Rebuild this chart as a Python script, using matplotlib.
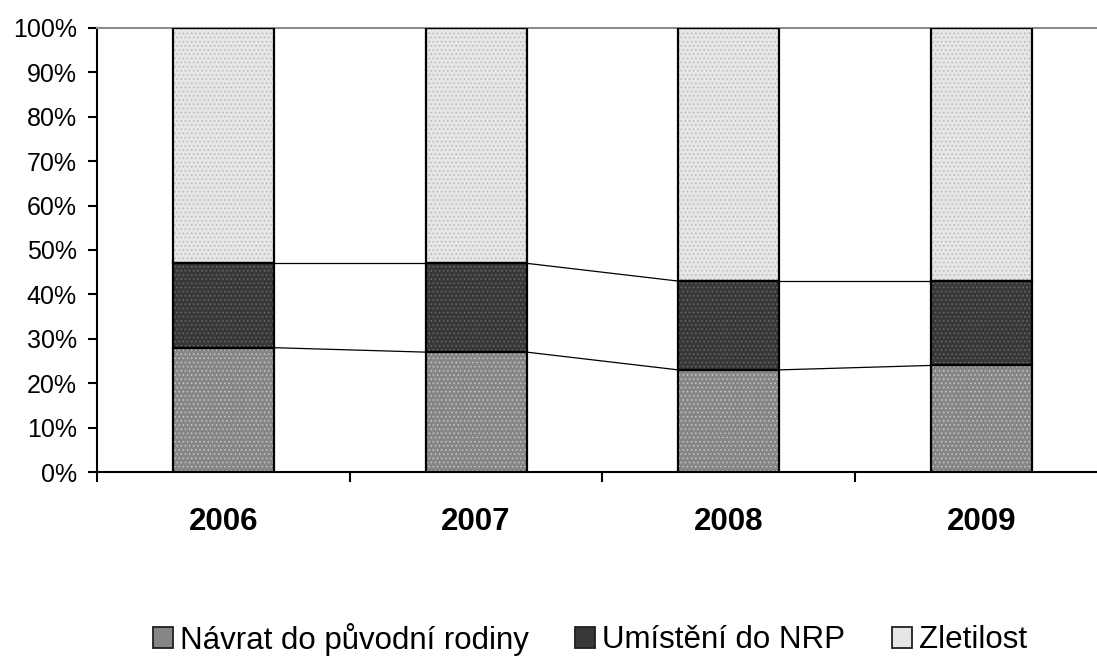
import numpy as np
import matplotlib.pyplot as plt

plt.rcParams['font.family'] = ['Liberation Sans', 'DejaVu Sans']
plt.rcParams['hatch.linewidth'] = 0.6

years = ['2006', '2007', '2008', '2009']
navrat = np.array([28, 27, 23, 24])
umisteni = np.array([19, 20, 20, 19])
zletilost = np.array([53, 53, 57, 57])
labels = ['Návrat do původní rodiny', 'Umístění do NRP', 'Zletilost']

fills = ['#868686', '#383838', '#e6e6e6']
hatchcol = ['#c8c8c8', '#6a6a6a', '#b8b8b8']

fig = plt.figure(figsize=(10.97, 6.56), dpi=100)
ax = fig.add_axes([97/1097, 184/656, 1000/1097, 444/656])

x = np.arange(len(years))
w = 0.40
series = [navrat, umisteni, zletilost]
bottom = np.zeros(len(years))
handles = []
for vals, fc, hc, lab in zip(series, fills, hatchcol, labels):
    ax.bar(x, vals, w, bottom=bottom, color=fc, edgecolor=hc, hatch='....', linewidth=0, zorder=2)
    ax.bar(x, vals, w, bottom=bottom, fill=False, edgecolor='black', linewidth=1.6, zorder=3)
    handles.append(plt.Rectangle((0, 0), 1, 1, facecolor=fc, edgecolor='#202020', linewidth=1.3))
    bottom = bottom + vals

# series lines between bars
cum1 = navrat
cum2 = navrat + umisteni
for cum in (cum1, cum2):
    for i in range(len(years) - 1):
        ax.plot([x[i] + w/2, x[i+1] - w/2], [cum[i], cum[i+1]], color='black', lw=0.9, zorder=1)

ax.set_yticks(np.arange(0, 101, 10))
ax.set_yticklabels([f'{v}%' for v in range(0, 101, 10)], fontsize=18)
ax.tick_params(axis='y', direction='out', length=6.5, width=1.5, pad=8)

ax.set_xticks(x)
ax.set_xticklabels(years, fontsize=22.5, fontweight='bold')
ax.tick_params(axis='x', which='major', length=0, pad=25)
ax.set_xticks([-0.5, 0.5, 1.5, 2.5], minor=True)
ax.tick_params(axis='x', which='minor', direction='out', length=7, width=1.5)

ax.set_xlim(-0.5, -0.5 + 1000/252.7)
ax.set_ylim(0, 100)

ax.spines['right'].set_visible(False)
ax.spines['top'].set_color('#8c8c8c')
ax.spines['top'].set_linewidth(1.5)
ax.spines['left'].set_linewidth(1.5)
ax.spines['bottom'].set_linewidth(1.5)

fig.legend(handles, labels, loc='center', bbox_to_anchor=(590/1097, 17/656), ncol=3,
           frameon=False, fontsize=22.5, handlelength=0.64, handleheight=0.64,
           handletextpad=0.22, columnspacing=1.5, borderpad=0)

fig.savefig('out.png', dpi=100)
